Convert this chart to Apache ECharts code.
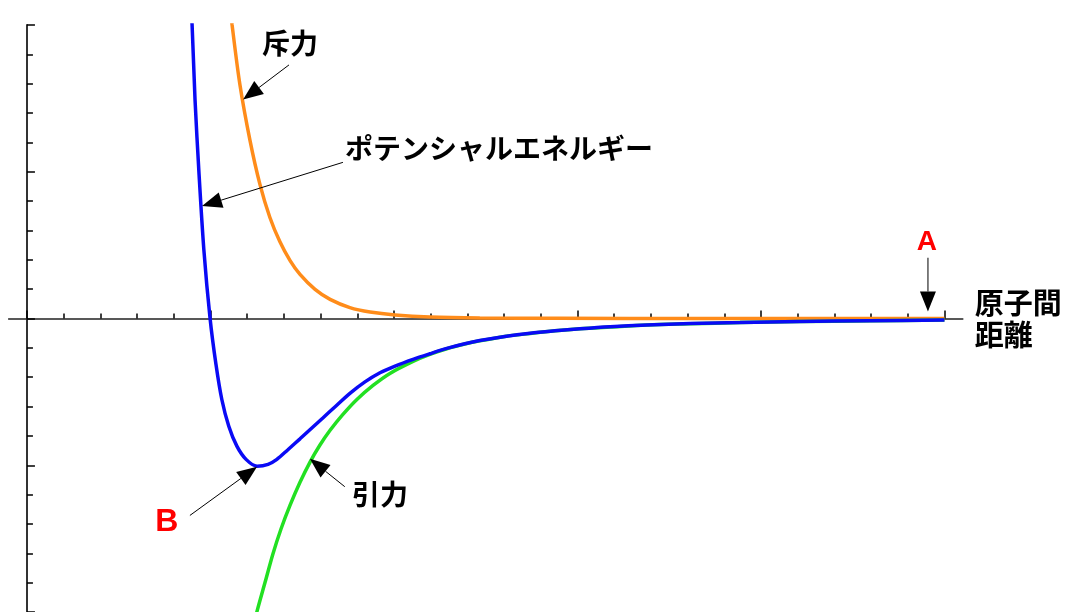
<!DOCTYPE html>
<html>
<head>
<meta charset="utf-8">
<script src="https://cdn.jsdelivr.net/npm/echarts@6/dist/echarts.min.js"></script>
<style>
  html, body { margin: 0; background: #fff; }
  #main { width: 1068px; height: 612px; }
</style>
</head>
<body>
<div id="main"></div>
<script>
// curves (x = interatomic distance, y = energy / force)
const potentialX = [4.44, 4.50, 4.58, 4.69, 4.82, 4.99, 5.15, 5.31, 5.50, 5.72, 5.97, 6.27, 6.57, 6.81, 7.11, 7.44, 7.77, 8.07, 8.42, 8.80, 9.21, 9.62, 10.03, 10.52, 10.98, 11.44, 11.93, 12.34, 13.02, 13.71, 14.39, 15.07, 15.89, 16.89, 18.07, 19.43, 21.06, 22.97, 25.0];
const potentialY = [11.36, 10.0, 7.45, 4.90, 2.35, 0.0, -1.56, -2.76, -3.67, -4.35, -4.80, -5.03, -4.97, -4.80, -4.47, -4.10, -3.72, -3.38, -2.98, -2.55, -2.16, -1.85, -1.62, -1.39, -1.20, -1.02, -0.86, -0.75, -0.61, -0.50, -0.42, -0.35, -0.28, -0.22, -0.17, -0.14, -0.10, -0.075, -0.05];

const repulsionX = [5.42, 5.59, 5.80, 6.08, 6.35, 6.62, 6.89, 7.17, 7.44, 7.85, 8.26, 8.80, 9.35, 10.03, 10.98, 12.34, 14.52, 18.34, 25.0];
const repulsionY = [11.84, 10.0, 7.99, 6.05, 4.56, 3.44, 2.62, 1.97, 1.50, 0.99, 0.65, 0.37, 0.22, 0.12, 0.05, 0.017, 0.005, 0.001, 0.0];

const attractionX = [6.08, 6.27, 6.49, 6.70, 6.92, 7.17, 7.44, 7.71, 7.98, 8.26, 8.61, 8.99, 9.43, 9.89, 10.52, 10.98, 11.44, 11.93, 12.34, 13.02, 13.71, 14.39, 15.07, 15.89, 16.89, 18.07, 19.43, 21.06, 22.97, 25.0];
const attractionY = [-10.92, -9.97, -8.98, -8.03, -7.18, -6.36, -5.58, -4.90, -4.32, -3.81, -3.27, -2.76, -2.28, -1.87, -1.46, -1.22, -1.03, -0.87, -0.76, -0.61, -0.51, -0.42, -0.35, -0.29, -0.22, -0.18, -0.14, -0.105, -0.078, -0.054];

const minorTicksX = [0, 1, 2, 3, 4, 5, 6, 7, 8, 9, 10, 11, 12, 13, 14, 15, 16, 17, 18, 19, 20, 21, 22, 23, 24, 25];
const majorTicksX = [0, 5, 10, 15, 20, 25];

// annotations, in data coordinates
const arrows = [
    { from: [7.14, 8.64], to: [5.89, 7.46], color: '#000' },
    { from: [8.61, 5.32], to: [4.77, 3.83], color: '#000' },
    { from: [8.66, -5.73], to: [7.71, -4.78], color: '#000' },
    { from: [4.44, -6.71], to: [6.27, -5.05], color: '#000' },
    { from: [24.55, 2.07], to: [24.55, 0.24], color: '#555' }
];
const notes = [
    { text: '斥力', at: [7.17, 9.36], color: '#000', font: 'bold 28px "Noto Sans CJK JP"' },
    { text: 'ポテンシャルエネルギー', at: [12.86, 5.80], color: '#000', font: 'bold 28px "Noto Sans CJK JP"' },
    { text: '引力', at: [9.62, -6.0], color: '#000', font: 'bold 28px "Noto Sans CJK JP"' },
    { text: 'B', at: [3.81, -6.95], color: '#ff0000', font: 'bold 32px "Liberation Sans"' },
    { text: 'A', at: [24.52, 2.61], color: '#ff0000', font: 'bold 28px "Liberation Sans"' }
];

const zip = (xs, ys) => xs.map((x, i) => [x, ys[i]]);

const chart = echarts.init(document.getElementById('main'));

const curve = (name, xs, ys, color) => ({
    name: name,
    type: 'line',
    data: zip(xs, ys),
    smooth: 0.3,
    showSymbol: false,
    silent: true,
    lineStyle: { color: color, width: 3.5 },
    itemStyle: { color: color }
});

chart.setOption({
    animation: false,
    grid: { left: 8.6, top: 25, width: 954.2, height: 588 },
    xAxis: [
        {
            type: 'value',
            min: -0.5,
            max: 25.5,
            name: '原子間\n距離',
            nameLocation: 'end',
            nameGap: 12,
            nameTextStyle: {
                color: '#000',
                fontSize: 29,
                fontWeight: 'bold',
                fontFamily: 'Noto Sans CJK JP',
                lineHeight: 32,
                align: 'left'
            },
            axisLine: { onZero: true, lineStyle: { color: '#222', width: 1.5 } },
            axisTick: { show: true, inside: true, length: 5, customValues: minorTicksX, lineStyle: { color: '#000', width: 1.5 } },
            axisLabel: { show: false },
            splitLine: { show: false }
        },
        {
            // taller ticks every 5 units, sitting on the same zero line
            type: 'value',
            min: -0.5,
            max: 25.5,
            position: 'bottom',
            axisLine: { show: false, onZero: true, onZeroAxisIndex: 1 },
            axisTick: { show: true, inside: true, length: 8, customValues: majorTicksX, lineStyle: { color: '#000', width: 1.5 } },
            axisLabel: { show: false },
            splitLine: { show: false }
        }
    ],
    yAxis: [
        {
            type: 'value',
            min: -10,
            max: 10,
            interval: 5,
            axisLine: { onZero: true, lineStyle: { color: '#333', width: 2 } },
            axisTick: { show: true, inside: true, length: 8, lineStyle: { color: '#000', width: 1.5 } },
            minorTick: { show: true, splitNumber: 5, length: 6, lineStyle: { color: '#000', width: 1.5 } },
            axisLabel: { show: false },
            splitLine: { show: false }
        },
        {
            type: 'value',
            min: -10,
            max: 10,
            show: false,
            splitLine: { show: false }
        }
    ],
    series: [
        curve('斥力', repulsionX, repulsionY, '#ff8c1a'),
        curve('引力', attractionX, attractionY, '#22e022'),
        curve('ポテンシャルエネルギー', potentialX, potentialY, '#0a0af5')
    ]
});

// arrows and texts placed through the grid's own scales
const toPx = (p) => chart.convertToPixel({ xAxisIndex: 0, yAxisIndex: 0 }, p);
const graphics = [];
arrows.forEach((a) => {
    const s = toPx(a.from);
    const e = toPx(a.to);
    const dx = e[0] - s[0], dy = e[1] - s[1];
    const len = Math.hypot(dx, dy);
    const ux = dx / len, uy = dy / len;
    const headLen = 20, headHalf = 8;
    const bx = e[0] - ux * headLen, by = e[1] - uy * headLen;
    graphics.push({
        type: 'line',
        shape: { x1: s[0], y1: s[1], x2: bx, y2: by },
        style: { stroke: a.color, lineWidth: a.color === '#000' ? 1 : 1.5 },
        z: 10
    });
    graphics.push({
        type: 'polygon',
        shape: { points: [e, [bx - uy * headHalf, by + ux * headHalf], [bx + uy * headHalf, by - ux * headHalf]] },
        style: { fill: '#000' },
        z: 10
    });
});
notes.forEach((n) => {
    const p = toPx(n.at);
    graphics.push({
        type: 'text',
        x: p[0],
        y: p[1],
        style: { text: n.text, font: n.font, fill: n.color, align: 'center', verticalAlign: 'middle' },
        z: 10
    });
});
chart.setOption({ graphic: graphics });
</script>
</body>
</html>
